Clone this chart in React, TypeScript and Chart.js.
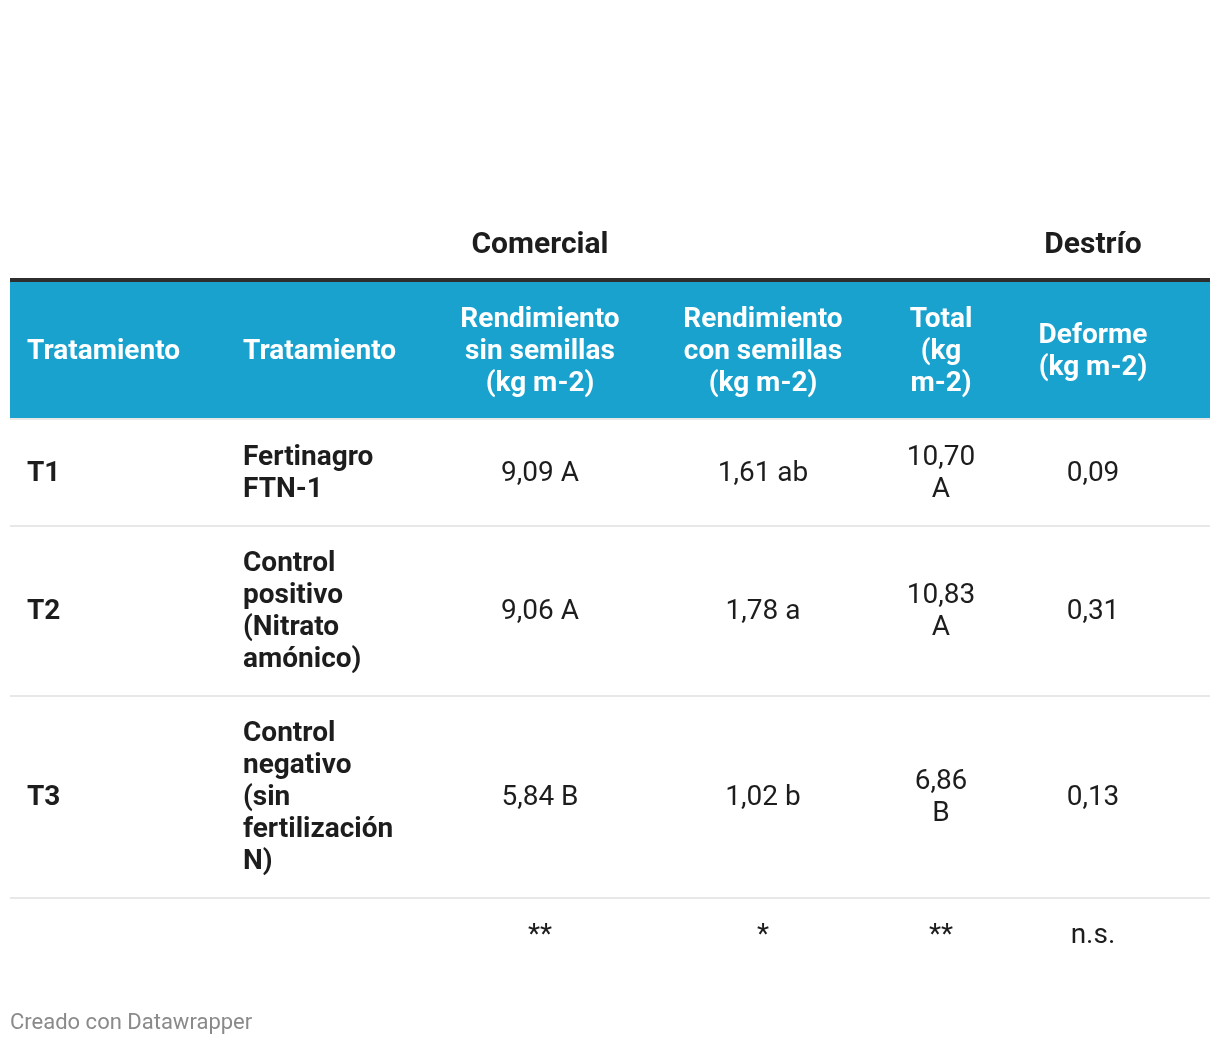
import { useEffect, useRef } from "react";
import { Chart, registerables } from "chart.js";

Chart.register(...registerables);

// ---------- data ----------
const GROUP_LABELS = ["", "", "Comercial", "", "", "Destrío"];
const HEADERS = [
  "Tratamiento",
  "Tratamiento",
  "Rendimiento sin semillas (kg m-2)",
  "Rendimiento con semillas (kg m-2)",
  "Total (kg m-2)",
  "Deforme (kg m-2)",
];
const CODES = ["T1", "T2", "T3"];
const NAMES = [
  "Fertinagro FTN-1",
  "Control positivo (Nitrato amónico)",
  "Control negativo (sin fertilización N)",
];
const YIELD_NO_SEEDS = [9.09, 9.06, 5.84];
const YIELD_NO_SEEDS_LETTERS = ["A", "A", "B"];
const YIELD_SEEDS = [1.61, 1.78, 1.02];
const YIELD_SEEDS_LETTERS = ["ab", "a", "b"];
const TOTAL = [10.7, 10.83, 6.86];
const TOTAL_LETTERS = ["A", "A", "B"];
const DEFORMED = [0.09, 0.31, 0.13];
const SIGNIFICANCE = ["", "", "**", "*", "**", "n.s."];
const FOOTER = "Creado con Datawrapper";

// ---------- layout / style ----------
const W = 1220;
const H = 1046;
const FONT = "Roboto, 'Noto Sans', sans-serif";
const FS = 28;
const COLS = [
  { x: 27, align: "left", wrap: 190, bold: true },
  { x: 243, align: "left", wrap: 155, bold: true },
  { x: 540, align: "center", wrap: 172, bold: false },
  { x: 763, align: "center", wrap: 172, bold: false },
  { x: 941, align: "center", wrap: 60, bold: false },
  { x: 1093, align: "center", wrap: 140, bold: false },
];
const TABLE_LEFT = 10;
const TABLE_RIGHT = 1210;
const GROUP_Y = 243;
const RULE_TOP = 278;
const HEADER_TOP = 282;
const LINE_H = 32;
const HEADER_PAD = 20;
const ROW_PAD = 21;
const TEXT_NUDGE = 2;
const FOOTER_Y = 1022;
const BLUE = "#1aa2ce";
const TEXT = "#1d1d1d";

const fmt = (v: number) => v.toFixed(2).replace(".", ",");

function wrap(ctx: CanvasRenderingContext2D, text: string, maxW: number): string[] {
  if (!text) return [""];
  const words = text.split(" ");
  const lines: string[] = [];
  let cur = "";
  for (const w of words) {
    const test = cur ? cur + " " + w : w;
    if (cur && ctx.measureText(test).width > maxW) {
      lines.push(cur);
      cur = w;
    } else cur = test;
  }
  if (cur) lines.push(cur);
  return lines;
}

const tablePlugin = {
  id: "tablePlugin",
  afterDraw(chart: any) {
    const ctx: CanvasRenderingContext2D = chart.ctx;
    const xs = chart.scales.x;
    const ys = chart.scales.y;
    const px = (v: number) => xs.getPixelForValue(v);
    const py = (v: number) => ys.getPixelForValue(v);

    const rows: string[][] = CODES.map((c, i) => [
      c,
      NAMES[i],
      fmt(YIELD_NO_SEEDS[i]) + " " + YIELD_NO_SEEDS_LETTERS[i],
      fmt(YIELD_SEEDS[i]) + " " + YIELD_SEEDS_LETTERS[i],
      fmt(TOTAL[i]) + " " + TOTAL_LETTERS[i],
      fmt(DEFORMED[i]),
    ]);
    rows.push(SIGNIFICANCE);

    ctx.save();
    ctx.textBaseline = "middle";

    // group labels
    ctx.fillStyle = TEXT;
    ctx.font = `bold 30px ${FONT}`;
    ctx.textAlign = "center";
    GROUP_LABELS.forEach((g, j) => {
      if (g) ctx.fillText(g, px(COLS[j].x), py(GROUP_Y + TEXT_NUDGE));
    });

    // header
    ctx.font = `bold ${FS}px ${FONT}`;
    const hLines = HEADERS.map((h, j) => wrap(ctx, h, COLS[j].wrap));
    const hMax = Math.max(...hLines.map((l) => l.length));
    const headerBottom = HEADER_TOP + hMax * LINE_H + 2 * HEADER_PAD;

    ctx.fillStyle = "#2e2e2e";
    ctx.fillRect(px(TABLE_LEFT), py(RULE_TOP), px(TABLE_RIGHT) - px(TABLE_LEFT), py(HEADER_TOP) - py(RULE_TOP));
    ctx.fillStyle = BLUE;
    ctx.fillRect(px(TABLE_LEFT), py(HEADER_TOP), px(TABLE_RIGHT) - px(TABLE_LEFT), py(headerBottom) - py(HEADER_TOP));
    ctx.fillStyle = "#e8e8e8";
    ctx.fillRect(px(TABLE_LEFT), py(headerBottom), px(TABLE_RIGHT) - px(TABLE_LEFT), 2);

    ctx.fillStyle = "#ffffff";
    hLines.forEach((lines, j) => {
      const col = COLS[j];
      ctx.textAlign = col.align as CanvasTextAlign;
      const top = HEADER_TOP + (headerBottom - HEADER_TOP - lines.length * LINE_H) / 2;
      lines.forEach((ln, k) => ctx.fillText(ln, px(col.x), py(top + k * LINE_H + LINE_H / 2 + TEXT_NUDGE)));
    });

    // body rows
    let y = headerBottom + 1;
    rows.forEach((row, r) => {
      const cells = row.map((t, j) => {
        ctx.font = `${COLS[j].bold ? "bold " : ""}${FS}px ${FONT}`;
        return wrap(ctx, t, COLS[j].wrap);
      });
      const n = Math.max(...cells.map((c) => c.length));
      const h = n * LINE_H + 2 * ROW_PAD;
      ctx.fillStyle = TEXT;
      cells.forEach((lines, j) => {
        const col = COLS[j];
        ctx.font = `${col.bold ? "bold " : ""}${FS}px ${FONT}`;
        ctx.textAlign = col.align as CanvasTextAlign;
        const top = y + (h - lines.length * LINE_H) / 2;
        lines.forEach((ln, k) => ctx.fillText(ln, px(col.x), py(top + k * LINE_H + LINE_H / 2 + TEXT_NUDGE)));
      });
      y += h;
      if (r < rows.length - 1) {
        ctx.fillStyle = "#e8e8e8";
        ctx.fillRect(px(TABLE_LEFT), py(y), px(TABLE_RIGHT) - px(TABLE_LEFT), 2);
      }
    });

    // footer
    ctx.fillStyle = "#8a8a8a";
    ctx.font = `22px ${FONT}`;
    ctx.textAlign = "left";
    ctx.fillText(FOOTER, px(TABLE_LEFT), py(FOOTER_Y + 1));
    ctx.restore();
  },
};

export default function App() {
  const ref = useRef<HTMLCanvasElement>(null);
  useEffect(() => {
    if (!ref.current) return;
    const chart = new Chart(ref.current, {
      type: "scatter",
      data: { datasets: [{ data: [], pointRadius: 0 }] },
      options: {
        animation: false,
        responsive: false,
        devicePixelRatio: 1,
        layout: { padding: 0 },
        plugins: { legend: { display: false }, tooltip: { enabled: false } },
        scales: {
          x: { type: "linear", min: 0, max: W, display: false },
          y: { type: "linear", min: 0, max: H, reverse: true, display: false },
        },
      },
      plugins: [tablePlugin],
    });
    return () => chart.destroy();
  }, []);
  return (
    <div style={{ position: "absolute", left: 0, top: 0, width: W, height: H, background: "#fff" }}>
      <canvas ref={ref} width={W} height={H} style={{ width: W, height: H }} />
    </div>
  );
}
